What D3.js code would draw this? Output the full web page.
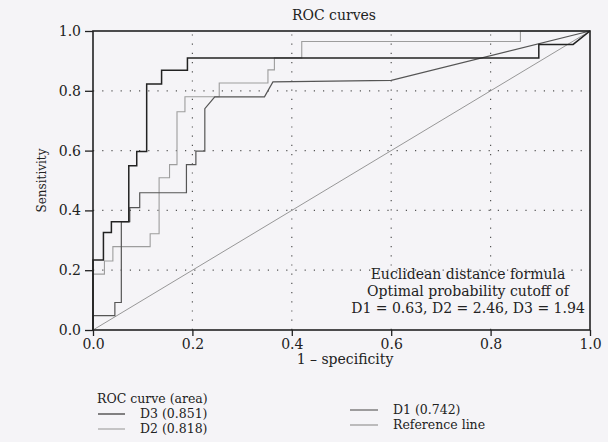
<!DOCTYPE html>
<html>
<head>
<meta charset="utf-8">
<script src="https://cdn.jsdelivr.net/npm/d3@7"></script>
<style>
  body { margin: 0; background: #f5f4f7; }
  svg { display: block; }
  text { font-family: "DejaVu Serif", "Liberation Serif", serif; fill: #222; }
</style>
</head>
<body>
<svg></svg>
<script>
// 1 - specificity / sensitivity pairs
const d3Fpr = [0, 0, 0.021, 0.021, 0.037, 0.037, 0.072, 0.072, 0.088, 0.088, 0.108, 0.108, 0.138, 0.138, 0.19, 0.19, 0.897, 0.897, 0.966, 1]
const d3Tpr = [0, 0.234, 0.234, 0.326, 0.326, 0.362, 0.362, 0.549, 0.549, 0.597, 0.597, 0.823, 0.823, 0.869, 0.869, 0.91, 0.91, 0.955, 0.955, 1]

const d2Fpr = [0, 0, 0.023, 0.023, 0.04, 0.04, 0.115, 0.115, 0.133, 0.133, 0.154, 0.154, 0.169, 0.169, 0.185, 0.185, 0.254, 0.254, 0.352, 0.352, 0.365, 0.365, 0.42, 0.42, 0.86, 0.86, 1]
const d2Tpr = [0, 0.187, 0.187, 0.231, 0.231, 0.279, 0.279, 0.322, 0.322, 0.509, 0.509, 0.553, 0.553, 0.73, 0.73, 0.78, 0.78, 0.826, 0.826, 0.87, 0.87, 0.91, 0.91, 0.965, 0.965, 1, 1]

const d1Fpr = [0, 0, 0.044, 0.044, 0.057, 0.057, 0.074, 0.074, 0.094, 0.094, 0.188, 0.188, 0.207, 0.207, 0.225, 0.225, 0.245, 0.345, 0.362, 0.6, 1]
const d1Tpr = [0, 0.048, 0.048, 0.092, 0.092, 0.362, 0.362, 0.409, 0.409, 0.459, 0.459, 0.553, 0.553, 0.598, 0.598, 0.74, 0.78, 0.78, 0.83, 0.835, 1]

const refFpr = [0, 1]
const refTpr = [0, 1]

const ticks = [0, 0.2, 0.4, 0.6, 0.8, 1.0]
const gridTicks = [0.2, 0.4, 0.6, 0.8]
const noteLines = ["Euclidean distance formula", "Optimal probability cutoff of", "D1 = 0.63, D2 = 2.46, D3 = 1.94"]
const legendLeft = ["D3 (0.851)", "D2 (0.818)"]
const legendRight = ["D1 (0.742)", "Reference line"]

let width = 608, height = 442
let svg, x, y

function pairs(xs, ys) {
  return xs.map((v, i) => [v, ys[i]])
}

function render() {
  svg = d3.select("svg")
    .attr("width", width)
    .attr("height", height)

  x = d3.scaleLinear().domain([0, 1]).range([93, 590])
  y = d3.scaleLinear().domain([0, 1]).range([330, 31])

  // dotted grid
  const grid = svg.append("g").attr("class", "grid")
  grid.selectAll("line.vx")
    .data(gridTicks)
    .enter().append("line")
    .attr("x1", d => x(d)).attr("x2", d => x(d))
    .attr("y1", y(0)).attr("y2", y(1))
  grid.selectAll("line.hy")
    .data(gridTicks)
    .enter().append("line")
    .attr("x1", x(0)).attr("x2", x(1))
    .attr("y1", d => y(d)).attr("y2", d => y(d))
  grid.selectAll("line")
    .attr("stroke", "#555")
    .attr("stroke-width", 1.2)
    .attr("stroke-dasharray", "1.2,8")

  // note box hides the grid under the text
  svg.append("rect")
    .attr("x", x(0.51)).attr("y", y(0.185))
    .attr("width", x(0.995) - x(0.51))
    .attr("height", y(0.01) - y(0.185))
    .attr("fill", "#f5f4f7")

  const line = d3.line().x(d => x(d[0])).y(d => y(d[1]))

  const series = [
    {pts: pairs(refFpr, refTpr), color: "#8c8c8c", w: 0.9},
    {pts: pairs(d2Fpr, d2Tpr), color: "#9d9d9d", w: 1.1},
    {pts: pairs(d1Fpr, d1Tpr), color: "#555", w: 1.2},
    {pts: pairs(d3Fpr, d3Tpr), color: "#222", w: 1.5}
  ]

  svg.append("g").attr("class", "curves")
    .selectAll("path")
    .data(series)
    .enter().append("path")
    .attr("d", d => line(d.pts))
    .attr("fill", "none")
    .attr("stroke", d => d.color)
    .attr("stroke-width", d => d.w)

  // frame
  svg.append("rect")
    .attr("x", x(0)).attr("y", y(1))
    .attr("width", x(1) - x(0)).attr("height", y(0) - y(1))
    .attr("fill", "none")
    .attr("stroke", "#222")
    .attr("stroke-width", 1.6)

  svg.append("g")
    .attr("transform", `translate(0,${y(0)})`)
    .call(d3.axisBottom(x).tickValues(ticks).tickFormat(d3.format(".1f")).tickSize(6).tickPadding(3))
  svg.append("g")
    .attr("transform", `translate(${x(0)},0)`)
    .call(d3.axisLeft(y).tickValues(ticks).tickFormat(d3.format(".1f")).tickSize(8).tickPadding(4))

  svg.selectAll(".domain").remove()
  svg.selectAll(".tick line").attr("stroke", "#222").attr("stroke-width", 1.3)
  svg.selectAll(".tick text")
    .attr("fill", "#222")
    .style("font-family", '"DejaVu Serif", serif')
    .style("font-size", "14px")

  svg.append("text")
    .attr("x", 334).attr("y", 20)
    .attr("text-anchor", "middle")
    .style("font-size", "14px")
    .text("ROC curves")

  svg.append("text")
    .attr("x", 345).attr("y", 364)
    .attr("text-anchor", "middle")
    .style("font-size", "14px")
    .text("1 \u2013 specificity")

  svg.append("text")
    .attr("transform", `translate(46,${y(0.5)}) rotate(-90)`)
    .attr("text-anchor", "middle")
    .style("font-size", "12px")
    .text("Sensitivity")

  svg.append("g").attr("class", "note")
    .selectAll("text")
    .data(noteLines)
    .enter().append("text")
    .attr("x", 468)
    .attr("y", (d, i) => 279 + i * 17)
    .attr("text-anchor", "middle")
    .style("font-size", "14px")
    .text(d => d)

  // legend
  svg.append("text")
    .attr("x", 97).attr("y", 403)
    .style("font-size", "12.5px")
    .text("ROC curve (area)")

  const legendColors = {"D3 (0.851)": "#222", "D2 (0.818)": "#9d9d9d", "D1 (0.742)": "#555", "Reference line": "#8c8c8c"}

  const legL = svg.append("g").selectAll("g")
    .data(legendLeft)
    .enter().append("g")
    .attr("transform", (d, i) => `translate(98,${418 + i * 15})`)
  legL.append("line").attr("x1", 0).attr("x2", 27).attr("y1", -4).attr("y2", -4)
    .attr("stroke", d => legendColors[d]).attr("stroke-width", 1.1)
  legL.append("text").attr("x", 42).style("font-size", "12.5px").text(d => d)

  const legR = svg.append("g").selectAll("g")
    .data(legendRight)
    .enter().append("g")
    .attr("transform", (d, i) => `translate(350,${414 + i * 15})`)
  legR.append("line").attr("x1", 0).attr("x2", 28).attr("y1", -4).attr("y2", -4)
    .attr("stroke", d => legendColors[d]).attr("stroke-width", 1.1)
  legR.append("text").attr("x", 43).style("font-size", "12.5px").text(d => d)
}

render()
</script>
</body>
</html>
